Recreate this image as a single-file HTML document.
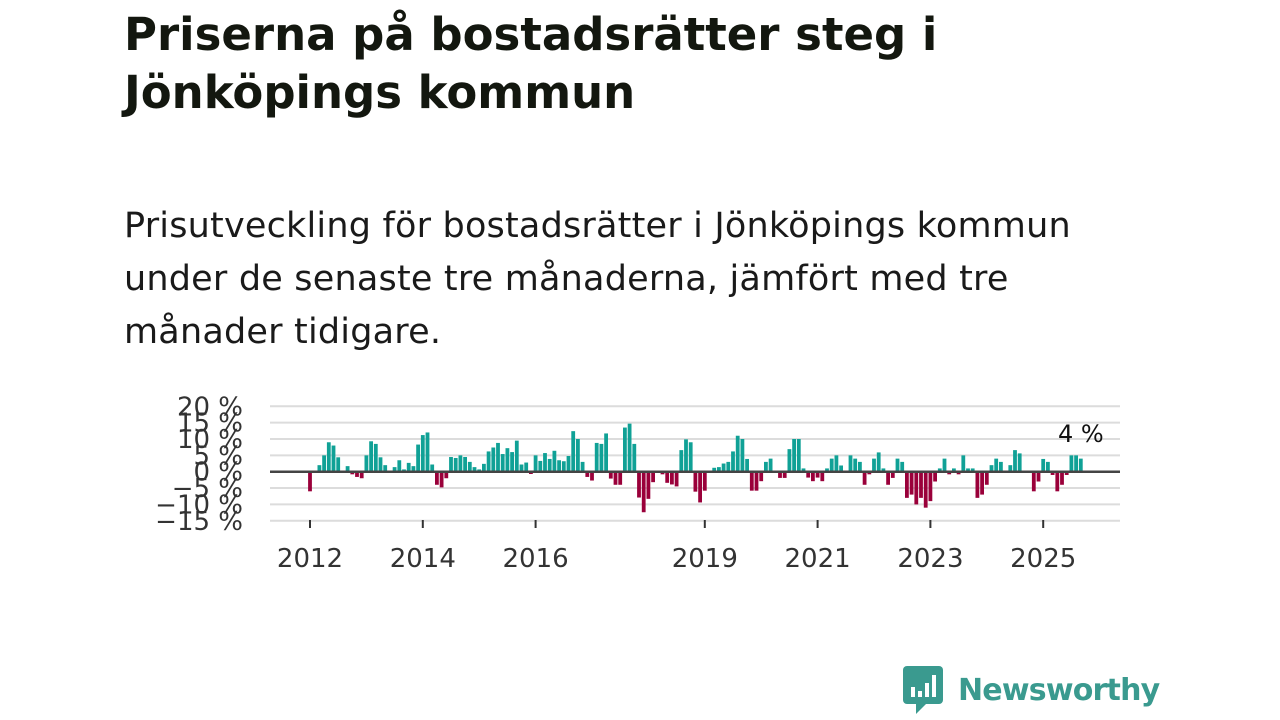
<!DOCTYPE html>
<html><head><meta charset="utf-8"><style>
body{margin:0;width:1280px;height:720px;background:#fff;font-family:"Liberation Sans","DejaVu Sans",sans-serif;overflow:hidden;position:relative}
h1{position:absolute;left:124px;top:6px;margin:0;font-size:45px;line-height:58px;font-weight:bold;color:#13170f;font-family:"DejaVu Sans","Liberation Sans",sans-serif;letter-spacing:0px}
p{position:absolute;left:124px;top:200px;margin:0;font-size:35px;line-height:53px;color:#1a1a1a;font-family:"DejaVu Sans","Liberation Sans",sans-serif;letter-spacing:0.2px}
</style></head><body>
<h1>Priserna på bostadsrätter steg i<br>Jönköpings kommun</h1>
<p>Prisutveckling för bostadsrätter i Jönköpings kommun<br>under de senaste tre månaderna, jämfört med tre<br>månader tidigare.</p>
<svg id="chart" width="1280" height="720" style="position:absolute;left:0;top:0"></svg>
<div style="position:absolute;left:902px;top:668px;height:44px;display:flex;align-items:center">
<svg width="42" height="50" viewBox="0 0 42 50"><rect x="1" y="1" width="40" height="38" rx="4" fill="#3a9a8f"/><path d="M14 39 L14 49 L24 39Z" fill="#3a9a8f"/><rect x="9" y="22" width="4" height="10" fill="#fff"/><rect x="16" y="26" width="4" height="6" fill="#fff"/><rect x="23" y="18" width="4" height="14" fill="#fff"/><rect x="30" y="10" width="4" height="22" fill="#fff"/></svg>
<span style="margin-left:14px;font-size:30px;font-weight:bold;color:#3a9a8f;font-family:'DejaVu Sans',sans-serif;letter-spacing:-0.8px">Newsworthy</span></div>
<script>
const values=[-6,0,2,5,9,8,4.4,0,1.7,-0.8,-1.6,-2,5,9.3,8.5,4.4,2,0.3,1.4,3.5,0.7,2.7,1.7,8.3,11.2,12,2.2,-4,-4.8,-2,4.5,4.2,5,4.5,3,1.4,0.7,2.4,6.2,7.4,8.8,5.4,7.2,6,9.5,2.2,2.8,-0.7,5,3.3,5.7,3.9,6.4,3.5,3.2,4.8,12.4,10,3,-1.6,-2.7,8.8,8.5,11.7,-2.1,-4,-4,13.5,14.7,8.5,-7.9,-12.4,-8.3,-3.2,0,-0.8,-3.4,-3.9,-4.5,6.6,9.9,9,-6.1,-9.4,-5.8,0,1.2,1.4,2.5,3,6.2,11,10,3.9,-5.8,-5.8,-2.9,3,4,0,-1.9,-1.9,6.9,10,10,1,-1.8,-2.9,-1.8,-2.9,1,4,5,1.9,0,5,4,3,-4,-0.8,4,5.9,1,-4,-1.9,4,3,-8,-7,-10,-8,-11,-9,-3,1,4,-0.8,1,-0.8,5,1,1,-8,-7,-4,2,4,3,0,2,6.6,5.6,0,0,-6,-3,3.9,3,-1,-6,-4,-1,5,5,4];
const yTicks=[20,15,10,5,0,-5,-10,-15];
const yLabels=["20 %","15 %","10 %","5 %","0 %","−5 %","−10 %","−15 %"];
const xYears=[2012,2014,2016,2019,2021,2023,2025];
const startYear=2012;
const lastLabel="4 %";
const NS="http://www.w3.org/2000/svg",svg=document.getElementById('chart');
const y=v=>471.7-v*3.27, x=t=>310+(t-startYear)*56.4;
function el(tag,a,txt){const e=document.createElementNS(NS,tag);for(const k in a)e.setAttribute(k,a[k]);if(txt!==undefined)e.textContent=txt;svg.appendChild(e);return e;}
yTicks.forEach((t,i)=>{
 const g=el('line',{x1:270,x2:1120,y1:y(t),y2:y(t),stroke:t===0?'none':'#dcdcdc','stroke-width':2});
 
 
 const l=el('text',{x:243,y:y(t)+9,'text-anchor':'end','font-size':26,fill:'#333','font-family':'DejaVu Sans,sans-serif'},yLabels[i]);
 
 
});
values.forEach((v,i)=>{
 const cx=x(startYear+i/12);
 const r=el('rect',{x:cx-1.9,y:Math.min(y(v),y(0)),width:3.8,height:Math.abs(y(v)-y(0)),fill:v>=0?'#10a196':'#9a003a'});
 
 
});
const z=el('line',{x1:270,x2:1120,y1:y(0),y2:y(0),stroke:'#444','stroke-width':2.5});


xYears.forEach(yr=>{
 const t=el('line',{x1:x(yr),x2:x(yr),y1:520,y2:528,stroke:'#333','stroke-width':2});
 
 
 const l=el('text',{x:x(yr),y:567,'text-anchor':'middle','font-size':26,fill:'#333','font-family':'DejaVu Sans,sans-serif'},String(yr));
 
 
});
const li=values.length-1;
const lb=el('text',{x:x(startYear+li/12),y:442,'text-anchor':'middle','font-size':24,fill:'#111','font-family':'DejaVu Sans,sans-serif'},lastLabel);


</script>
</body></html>
